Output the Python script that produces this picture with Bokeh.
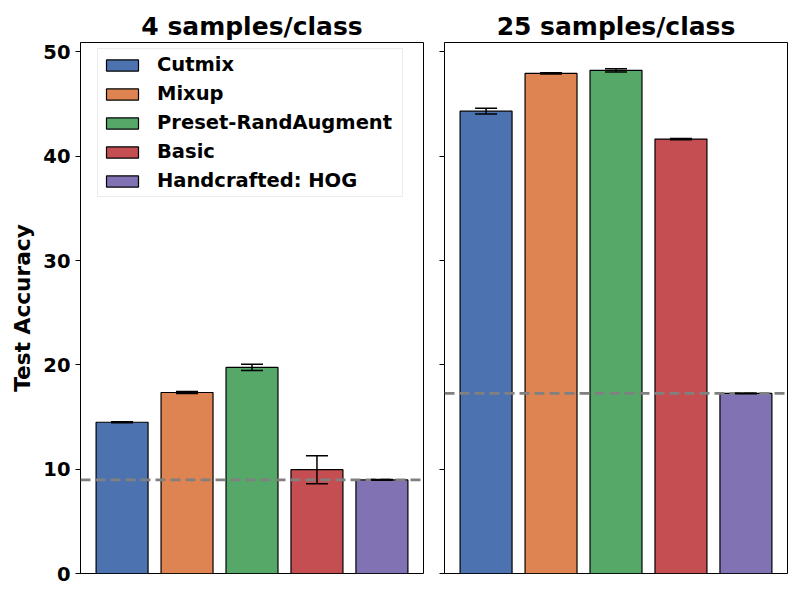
import numpy as np
from bokeh.plotting import figure
from bokeh.layouts import row, column
from bokeh.models import (ColumnDataSource, Range1d, Span, Whisker, TeeHead, Legend, LegendItem,
                          SingleIntervalTicker, Spacer)
from bokeh.embed import file_html
from bokeh.resources import INLINE

methods = ["Cutmix", "Mixup", "Preset-RandAugment", "Basic", "Handcrafted: HOG"]
colors = ["#4C72B0", "#DD8452", "#55A868", "#C44E52", "#8172B3"]
acc_4 = [14.5, 17.35, 19.75, 9.95, 8.97]
err_4 = [0.05, 0.1, 0.3, 1.34, 0.03]
acc_25 = [44.32, 47.94, 48.23, 41.64, 17.26]
err_25 = [0.27, 0.06, 0.15, 0.06, 0.03]
titles = ["4 samples/class", "25 samples/class"]
y_ticks = [0, 10, 20, 30, 40, 50]
y_max = 50.9
FONT = "DejaVu Sans"


def panel(title, acc, err, first):
    x = np.arange(len(methods))
    src = ColumnDataSource(dict(
        x=x, acc=acc, method=methods, color=colors,
        upper=np.array(acc) + np.array(err), lower=np.array(acc) - np.array(err)))
    p = figure(frame_width=343, frame_height=531, output_backend="svg", toolbar_location=None,
               x_range=Range1d(-0.64, len(methods) - 0.36), y_range=Range1d(0, y_max),
               min_border_left=60 if first else 11, min_border_right=10 if first else 3,
               min_border_top=0, min_border_bottom=12)
    p.title.text = title
    p.title.align = "center"
    p.title.text_font = FONT
    p.title.text_font_size = "25px"
    p.title.text_font_style = "bold"
    p.title.text_color = "black"
    p.title.standoff = 3
    r = p.vbar(x="x", top="acc", width=0.8, source=src, fill_color="color",
               line_color="black", line_width=1.2)
    p.add_layout(Span(location=acc[-1], dimension="width", line_color="#808080",
                      line_width=2.8, line_dash="10 5"))
    w = Whisker(source=src, base="x", upper="upper", lower="lower", line_color="black", line_width=1.5,
                upper_head=TeeHead(size=22, line_color="black", line_width=1.5),
                lower_head=TeeHead(size=22, line_color="black", line_width=1.5),
                level="overlay")
    p.add_layout(w)
    p.xgrid.visible = False
    p.ygrid.visible = False
    p.xaxis.visible = False
    p.outline_line_color = "black"
    p.outline_line_alpha = 1
    p.outline_line_width = 1
    ax = p.yaxis[0]
    ax.ticker = SingleIntervalTicker(interval=10)
    ax.minor_tick_line_color = None
    ax.major_tick_out = 5
    ax.major_tick_in = 0
    ax.axis_line_color = "black"
    ax.major_tick_line_color = "black"
    ax.major_label_text_font = FONT
    ax.major_label_text_font_style = "bold"
    ax.major_label_text_font_size = "19.5px"
    ax.major_label_text_color = "black"
    if first:
        ax.axis_label = "Test Accuracy"
        ax.axis_label_text_font = FONT
        ax.axis_label_text_font_style = "bold"
        ax.axis_label_text_font_size = "21.7px"
        ax.axis_label_text_color = "black"
        ax.axis_label_standoff = 5
        items = [LegendItem(label=m, renderers=[r], index=i) for i, m in enumerate(methods)]
        leg = Legend(items=items, location=(17, 376), label_text_font=FONT,
                     label_text_font_style="bold", label_text_font_size="19.5px",
                     label_text_color="black", label_width=241,
                     glyph_width=40, glyph_height=14, label_height=21, spacing=6,
                     padding=4, label_standoff=15, border_line_color="#d8d8d8",
                     border_line_width=1, background_fill_alpha=0.8)
        p.add_layout(leg)
    else:
        ax.major_label_overrides = {t: "" for t in y_ticks}
        ax.major_label_standoff = 0
    return p


p1 = panel(titles[0], acc_4, err_4, True)
p2 = panel(titles[1], acc_25, err_25, False)
p = column(Spacer(height=8), row(Spacer(width=7), p1, p2, spacing=0), spacing=0)
open("out.html", "w").write(file_html(p, INLINE))
